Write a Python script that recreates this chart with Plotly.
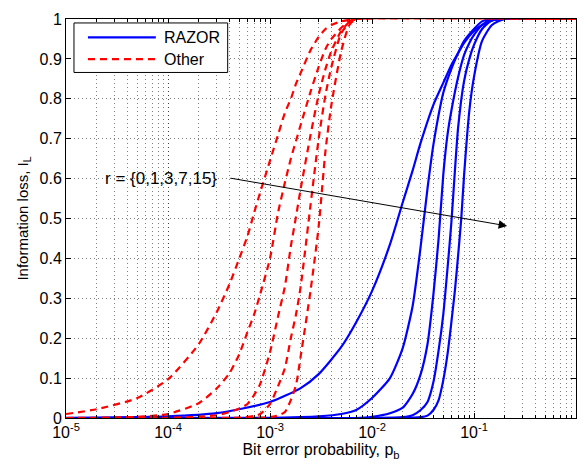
import plotly.graph_objects as go

# ---------------- data ----------------
r_values = [0, 1, 3, 7, 15]

# RAZOR (blue, solid)
p_razor_r0 = [1e-5, 1e-4, 3e-4, 1e-3, 2e-3, 3e-3, 5e-3, 7e-3, 1e-2, 1.5e-2, 2e-2, 2.5e-2, 3e-2, 4e-2, 5e-2, 6e-2, 7e-2, 8e-2, 0.1, 0.12, 0.15, 0.2, 1.0]
I_razor_r0 = [0.0004, 0.004, 0.012, 0.04, 0.075, 0.11, 0.178, 0.24, 0.318, 0.435, 0.54, 0.62, 0.69, 0.785, 0.84, 0.885, 0.915, 0.94, 0.97, 0.985, 0.996, 1.0, 1.0]

p_razor_r1 = [1e-5, 1e-3, 2e-3, 3e-3, 5e-3, 7e-3, 1e-2, 1.5e-2, 2e-2, 2.5e-2, 3e-2, 3.5e-2, 4e-2, 4.5e-2, 5e-2, 6e-2, 7e-2, 8e-2, 0.1, 0.12, 0.15, 1.0]
I_razor_r1 = [0.0, 0.0005, 0.002, 0.004, 0.01, 0.02, 0.05, 0.10, 0.175, 0.28, 0.43, 0.575, 0.685, 0.76, 0.815, 0.875, 0.915, 0.945, 0.975, 0.994, 1.0, 1.0]

p_razor_r3 = [1e-5, 7e-3, 1e-2, 1.5e-2, 2e-2, 2.5e-2, 3e-2, 3.5e-2, 4e-2, 4.5e-2, 5e-2, 5.5e-2, 6e-2, 7e-2, 8e-2, 9e-2, 0.1, 0.12, 0.15, 1.0]
I_razor_r3 = [0.0, 0.0, 0.003, 0.012, 0.026, 0.06, 0.11, 0.185, 0.31, 0.45, 0.61, 0.71, 0.77, 0.855, 0.91, 0.94, 0.96, 0.985, 1.0, 1.0]

p_razor_r7 = [1e-5, 1e-2, 2e-2, 2.5e-2, 3e-2, 3.5e-2, 4e-2, 4.5e-2, 5e-2, 5.5e-2, 6e-2, 6.5e-2, 7e-2, 8e-2, 9e-2, 0.1, 0.12, 0.15, 0.2, 1.0]
I_razor_r7 = [0.0, 0.0, 0.002, 0.007, 0.02, 0.04, 0.09, 0.17, 0.26, 0.375, 0.49, 0.62, 0.73, 0.845, 0.9, 0.935, 0.975, 0.997, 1.0, 1.0]

p_razor_r15 = [1e-5, 2e-2, 3e-2, 3.5e-2, 4e-2, 4.5e-2, 5e-2, 5.5e-2, 6e-2, 6.5e-2, 7e-2, 7.5e-2, 8e-2, 9e-2, 0.1, 0.12, 0.15, 0.2, 1.0]
I_razor_r15 = [0.0, 0.0, 0.002, 0.006, 0.02, 0.045, 0.095, 0.16, 0.24, 0.32, 0.41, 0.5, 0.61, 0.77, 0.855, 0.945, 0.985, 1.0, 1.0]

# Other (red, dashed)
p_other_r0 = [1e-5, 2e-5, 5e-5, 1e-4, 2e-4, 3e-4, 4e-4, 5e-4, 6e-4, 7e-4, 8e-4, 1e-3, 1.2e-3, 1.4e-3, 1.6e-3, 1.8e-3, 2e-3, 2.5e-3, 3e-3, 3.5e-3, 4e-3, 5e-3, 7e-3, 1.0]
I_other_r0 = [0.01, 0.022, 0.05, 0.097, 0.185, 0.265, 0.335, 0.40, 0.455, 0.515, 0.565, 0.645, 0.71, 0.765, 0.80, 0.838, 0.865, 0.922, 0.955, 0.975, 0.985, 0.994, 1.0, 1.0]

p_other_r1 = [1e-5, 2e-5, 5e-5, 1e-4, 2e-4, 3e-4, 4e-4, 5e-4, 6e-4, 7e-4, 8e-4, 1e-3, 1.2e-3, 1.4e-3, 1.6e-3, 1.8e-3, 2e-3, 2.5e-3, 3e-3, 3.5e-3, 4e-3, 5e-3, 6e-3, 7e-3, 1.0]
I_other_r1 = [0.0, 0.0005, 0.003, 0.01, 0.037, 0.074, 0.112, 0.16, 0.215, 0.26, 0.31, 0.40, 0.515, 0.59, 0.65, 0.695, 0.735, 0.818, 0.88, 0.925, 0.95, 0.978, 0.995, 1.0, 1.0]

p_other_r3 = [1e-5, 1e-4, 2e-4, 3e-4, 4e-4, 5e-4, 6e-4, 7e-4, 8e-4, 1e-3, 1.2e-3, 1.4e-3, 1.6e-3, 1.8e-3, 2e-3, 2.5e-3, 3e-3, 3.5e-3, 4e-3, 5e-3, 6e-3, 7e-3, 1.0]
I_other_r3 = [0.0, 0.0005, 0.003, 0.007, 0.015, 0.024, 0.035, 0.058, 0.085, 0.165, 0.255, 0.33, 0.43, 0.505, 0.575, 0.71, 0.81, 0.875, 0.92, 0.97, 0.993, 1.0, 1.0]

p_other_r7 = [1e-5, 1e-4, 5e-4, 7e-4, 8e-4, 1e-3, 1.2e-3, 1.4e-3, 1.6e-3, 1.8e-3, 2e-3, 2.5e-3, 3e-3, 3.5e-3, 4e-3, 5e-3, 6e-3, 7e-3, 1.0]
I_other_r7 = [0.0, 0.0, 0.001, 0.005, 0.01, 0.035, 0.08, 0.125, 0.2, 0.26, 0.33, 0.535, 0.70, 0.81, 0.88, 0.965, 0.99, 1.0, 1.0]

p_other_r15 = [1e-5, 5e-4, 1e-3, 1.2e-3, 1.4e-3, 1.6e-3, 1.8e-3, 2e-3, 2.5e-3, 3e-3, 3.5e-3, 4e-3, 5e-3, 6e-3, 7e-3, 1.0]
I_other_r15 = [0.0, 0.0, 0.002, 0.006, 0.015, 0.045, 0.083, 0.155, 0.32, 0.48, 0.67, 0.785, 0.92, 0.985, 1.0, 1.0]

razor_curves = [(p_razor_r0, I_razor_r0), (p_razor_r1, I_razor_r1), (p_razor_r3, I_razor_r3),
                (p_razor_r7, I_razor_r7), (p_razor_r15, I_razor_r15)]
other_curves = [(p_other_r0, I_other_r0), (p_other_r1, I_other_r1), (p_other_r3, I_other_r3),
                (p_other_r7, I_other_r7), (p_other_r15, I_other_r15)]

legend_labels = ["RAZOR", "Other"]
annotation_text = "r = {0,1,3,7,15}"

x_tick_vals = [1e-5, 1e-4, 1e-3, 1e-2, 1e-1, 1e0]
x_tick_text = ["10<sup>-5</sup>", "10<sup>-4</sup>", "10<sup>-3</sup>", "10<sup>-2</sup>", "10<sup>-1</sup>", "10<sup>0</sup>"]
y_tick_vals = [0, 0.1, 0.2, 0.3, 0.4, 0.5, 0.6, 0.7, 0.8, 0.9, 1]
y_tick_text = ["0", "0.1", "0.2", "0.3", "0.4", "0.5", "0.6", "0.7", "0.8", "0.9", "1"]

# ---------------- figure ----------------
FONT = "Liberation Sans, Arial, Helvetica, sans-serif"
BLUE = "#0000ff"
RED = "#ff0000"
DASH = "7px,5px"

# plot-area geometry in pixels (for placing paper-coordinate decorations)
W, H = 588, 465
L, R, T, B = 66, 11, 19, 43
PW, PH = W - L - R, H - T - B


def px(xp):
    return (xp - L) / PW


def py(yp):
    return (H - B - yp) / PH


fig = go.Figure()

for i, (p, v) in enumerate(razor_curves):
    fig.add_trace(go.Scatter(
        x=p, y=v, mode="lines", name=legend_labels[0], legendgroup="razor",
        showlegend=False,
        line=dict(color=BLUE, width=2.2, shape="spline", smoothing=0.6),
    ))
for i, (p, v) in enumerate(other_curves):
    fig.add_trace(go.Scatter(
        x=p, y=v, mode="lines", name=legend_labels[1], legendgroup="other",
        showlegend=False,
        line=dict(color=RED, width=2.2, dash=DASH, shape="spline", smoothing=0.6),
    ))

grid_col = "rgba(0,0,0,0.5)"
grid_dash = "1px,3px"
fig.update_xaxes(
    type="log", range=[-5, 0],
    tickvals=x_tick_vals, ticktext=x_tick_text,
    showline=True, linecolor="black", linewidth=1, mirror="ticks",
    ticks="inside", ticklen=5, tickcolor="black",
    showgrid=True, gridcolor=grid_col, griddash=grid_dash, gridwidth=1,
    minor=dict(showgrid=True, gridcolor=grid_col, griddash=grid_dash, gridwidth=1,
               ticks="inside", ticklen=3, tickcolor="black", dtick="D1"),
    zeroline=False,
    tickfont=dict(family=FONT, size=16, color="black"),
    title=dict(text="Bit error probability, p<sub>b</sub>", standoff=2,
               font=dict(family=FONT, size=16, color="black")),
)
fig.update_yaxes(
    range=[0, 1],
    tickvals=y_tick_vals, ticktext=y_tick_text,
    showline=True, linecolor="black", linewidth=1, mirror="ticks",
    ticks="inside", ticklen=5, tickcolor="black",
    showgrid=True, gridcolor=grid_col, griddash=grid_dash, gridwidth=1,
    zeroline=False,
    tickfont=dict(family=FONT, size=16, color="black"),
    title=dict(text="Information loss, I<sub>L</sub>", standoff=7,
               font=dict(family=FONT, size=15, color="black")),
)

# arrow and its label
fig.add_annotation(
    xref="paper", yref="paper", x=px(508), y=py(228),
    ax=230 - 508, ay=180 - 228, axref="pixel", ayref="pixel",
    text="", showarrow=True, arrowhead=2, arrowsize=1.7, arrowwidth=1, arrowcolor="black",
)
fig.add_annotation(
    xref="paper", yref="paper", x=px(161), y=py(180),
    text=annotation_text, showarrow=False, xanchor="center", yanchor="middle",
    font=dict(family=FONT, size=17, color="black"),
)

# legend box (drawn as in the original figure)
fig.add_shape(type="rect", xref="paper", yref="paper",
              x0=px(74), x1=px(228), y0=py(73), y1=py(23),
              line=dict(color="black", width=1), fillcolor="white", layer="above")
fig.add_shape(type="line", xref="paper", yref="paper",
              x0=px(88), x1=px(156), y0=py(37.5), y1=py(37.5),
              line=dict(color=BLUE, width=2.2), layer="above")
fig.add_shape(type="line", xref="paper", yref="paper",
              x0=px(88), x1=px(156), y0=py(59.5), y1=py(59.5),
              line=dict(color=RED, width=2.2, dash=DASH), layer="above")
for label, yy in zip(legend_labels, [38, 60]):
    fig.add_annotation(xref="paper", yref="paper", x=px(162), y=py(yy),
                       text=label, showarrow=False, xanchor="left", yanchor="middle",
                       font=dict(family=FONT, size=16, color="black"))

fig.update_layout(
    width=W, height=H,
    margin=dict(l=L, r=R, t=T, b=B),
    paper_bgcolor="white", plot_bgcolor="white",
    showlegend=False,
)

fig.write_html("out.html")
